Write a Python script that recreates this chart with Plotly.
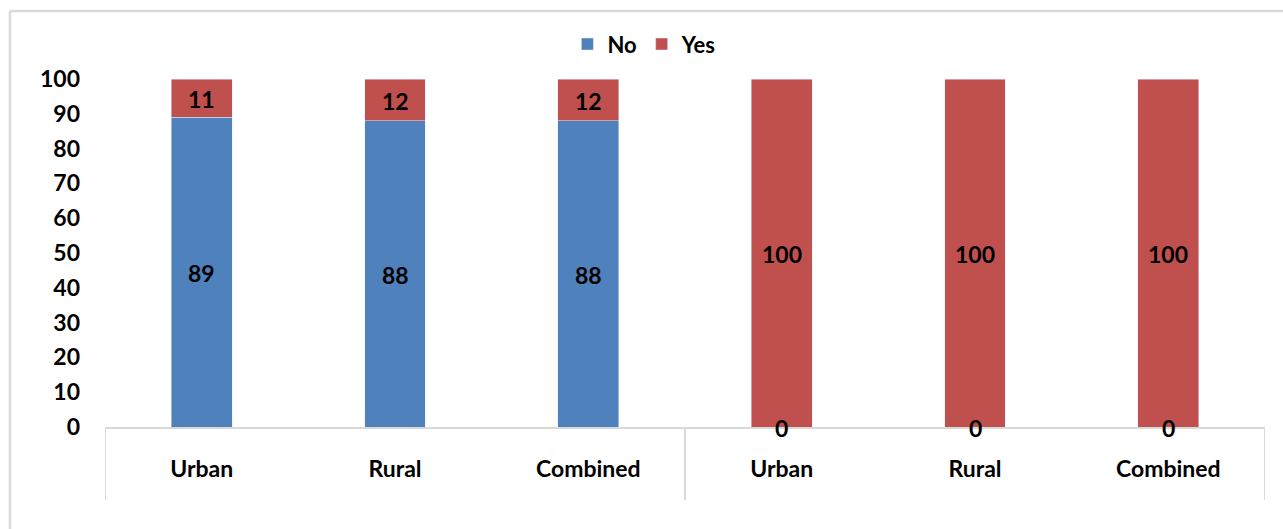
import plotly.graph_objects as go

# Survey responses (%) for two indicators, each split by area
areas = ["Urban", "Rural", "Combined", "Urban", "Rural", "Combined"]
no_pct = [89, 88, 88, 0, 0, 0]
yes_pct = [11, 12, 12, 100, 100, 100]

BLUE = "#4f81bd"
RED = "#c0504d"
GRID = "#d9d9d9"
FONT = "Lato"

xpos = list(range(len(areas)))

fig = go.Figure()
fig.add_trace(go.Bar(x=xpos, y=no_pct, name="No", marker_color=BLUE, width=0.315))
fig.add_trace(go.Bar(x=xpos, y=yes_pct, name="Yes", marker_color=RED, width=0.315))

# value labels centred on each stacked segment
label_font = dict(family=FONT, size=23, color="black", weight="bold")
annotations = []
for i in xpos:
    n, y = no_pct[i], yes_pct[i]
    annotations.append(dict(x=i, y=n / 2, text=str(n), showarrow=False, yshift=-1,
                            font=label_font, xref="x", yref="y"))
    annotations.append(dict(x=i, y=n + y / 2, text=str(y), showarrow=False, yshift=-1,
                            font=label_font, xref="x", yref="y"))

# group dividers below the category axis and the outer chart frame
shapes = []
for xd in [-0.5, 2.5, 5.5]:
    shapes.append(dict(type="line", xref="x", yref="paper", x0=xd, x1=xd, y0=0, y1=-0.21,
                       line=dict(color=GRID, width=2)))
shapes.append(dict(type="line", xref="paper", yref="paper", x0=-0.0819, x1=-0.0819,
                   y0=1.1954, y1=-0.35, line=dict(color=GRID, width=2.5)))
shapes.append(dict(type="line", xref="paper", yref="paper", x0=-0.0819, x1=1.05,
                   y0=1.1954, y1=1.1954, line=dict(color=GRID, width=2.5)))

fig.update_layout(
    width=1283, height=529,
    margin=dict(l=105, r=18, t=79, b=102),
    barmode="stack",
    plot_bgcolor="white", paper_bgcolor="white",
    font=dict(family=FONT, color="black"),
    shapes=shapes,
    annotations=annotations,
    legend=dict(orientation="h", x=0.465, y=1.10, xanchor="center", yanchor="middle",
                font=dict(family=FONT, size=22, color="black", weight="bold"),
                itemwidth=30, traceorder="normal"),
    xaxis=dict(range=[-0.5, 5.5], tickvals=xpos, ticktext=areas, showgrid=False,
               zeroline=False, showline=True, linecolor=GRID, linewidth=2, ticks="",
               layer="below traces",
               tickfont=dict(family=FONT, size=23, color="black", weight="bold"),
               ticklabelstandoff=20),
    yaxis=dict(range=[0, 100], dtick=10, showgrid=False, zeroline=False, showline=False,
               ticks="", tickfont=dict(family=FONT, size=23, color="black", weight="bold"),
               ticklabelstandoff=24),
)

fig.write_html("out.html")
